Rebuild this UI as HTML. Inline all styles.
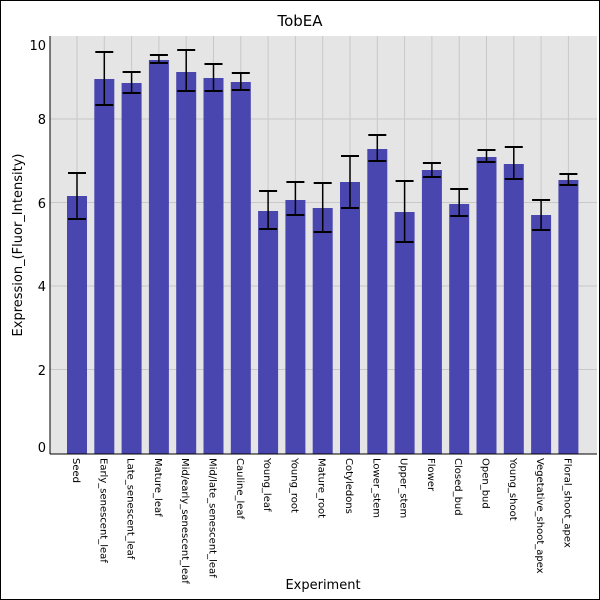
<!DOCTYPE html>
<html><head><style>body{margin:0;background:#fff}svg{display:block}</style></head><body>
<svg width="600" height="600" xmlns="http://www.w3.org/2000/svg" font-family="DejaVu Sans, Liberation Sans, sans-serif">
<rect x="0.5" y="0.5" width="599" height="599" fill="#fff" stroke="#000"/>
<text x="300" y="26" font-size="15" text-anchor="middle">TobEA</text>
<rect x="50" y="36" width="547" height="418" fill="#e5e5e5"/>
<g stroke="#c8c8c8" stroke-width="1">
<line x1="50" x2="597" y1="119" y2="119"/><line x1="50" x2="597" y1="202.5" y2="202.5"/><line x1="50" x2="597" y1="286" y2="286"/><line x1="50" x2="597" y1="369.5" y2="369.5"/>
</g>
<g id="vg" stroke="#c8c8c8"></g>
<g id="bars"></g>
<line x1="50" y1="36" x2="50" y2="454" stroke="#000"/>
<line x1="50" y1="454" x2="597" y2="454" stroke="#000"/>
<g font-size="13" text-anchor="end">
<text x="46" y="50">10</text><text x="46" y="124">8</text><text x="46" y="208">6</text><text x="46" y="291">4</text><text x="46" y="375">2</text><text x="46" y="452">0</text>
</g>
<text transform="translate(22,245) rotate(-90)" font-size="13" text-anchor="middle">Expression_(Fluor_Intensity)</text>
<text x="323" y="589" font-size="13" text-anchor="middle">Experiment</text>
<g id="labels" font-size="10"></g>
<script>
var names=["Seed","Early_senescent_leaf","Late_senescent_leaf","Mature_leaf","Mid/early_senescent_leaf","Mid/late_senescent_leaf","Cauline_leaf","Young_leaf","Young_root","Mature_root","Cotyledons","Lower_stem","Upper_stem","Flower","Closed_bud","Open_bud","Young_shoot","Vegetative_shoot_apex","Floral_shoot_apex"];
var d=[[196,173,219],[79,52,105],[83,72,93],[60,55,63],[72,50,91],[78,64,91],[82,73,90],[211,191,229],[200,182,215],[208,183,232],[182,156,208],[149,135,161],[212,181,242],[170,163,177],[204,189,216],[157,150,162],[164,147,179],[215,200,230],[180,174,185]];
var ns="http://www.w3.org/2000/svg",b=document.getElementById("bars"),l=document.getElementById("labels"),vg=document.getElementById("vg");
function el(p,t,a,txt){var e=document.createElementNS(ns,t);for(var k in a)e.setAttribute(k,a[k]);if(txt)e.textContent=txt;p.appendChild(e);return e;}
for(var i=0;i<19;i++){var x=67+27.3*i,c=x+10;
el(vg,"line",{x1:c,x2:c,y1:36,y2:454});
el(b,"rect",{x:x,y:d[i][0],width:20,height:454-d[i][0],fill:"#4a46b0"});
el(b,"line",{x1:c,x2:c,y1:d[i][1],y2:d[i][2],stroke:"#000","stroke-width":1.5});
el(b,"line",{x1:c-9,x2:c+9,y1:d[i][1],y2:d[i][1],stroke:"#000","stroke-width":2});
el(b,"line",{x1:c-9,x2:c+9,y1:d[i][2],y2:d[i][2],stroke:"#000","stroke-width":2});
el(l,"text",{x:c-4,y:458,transform:"rotate(90 "+(c-4)+" 458)"},names[i]);}
</script>
</svg>
</body></html>
